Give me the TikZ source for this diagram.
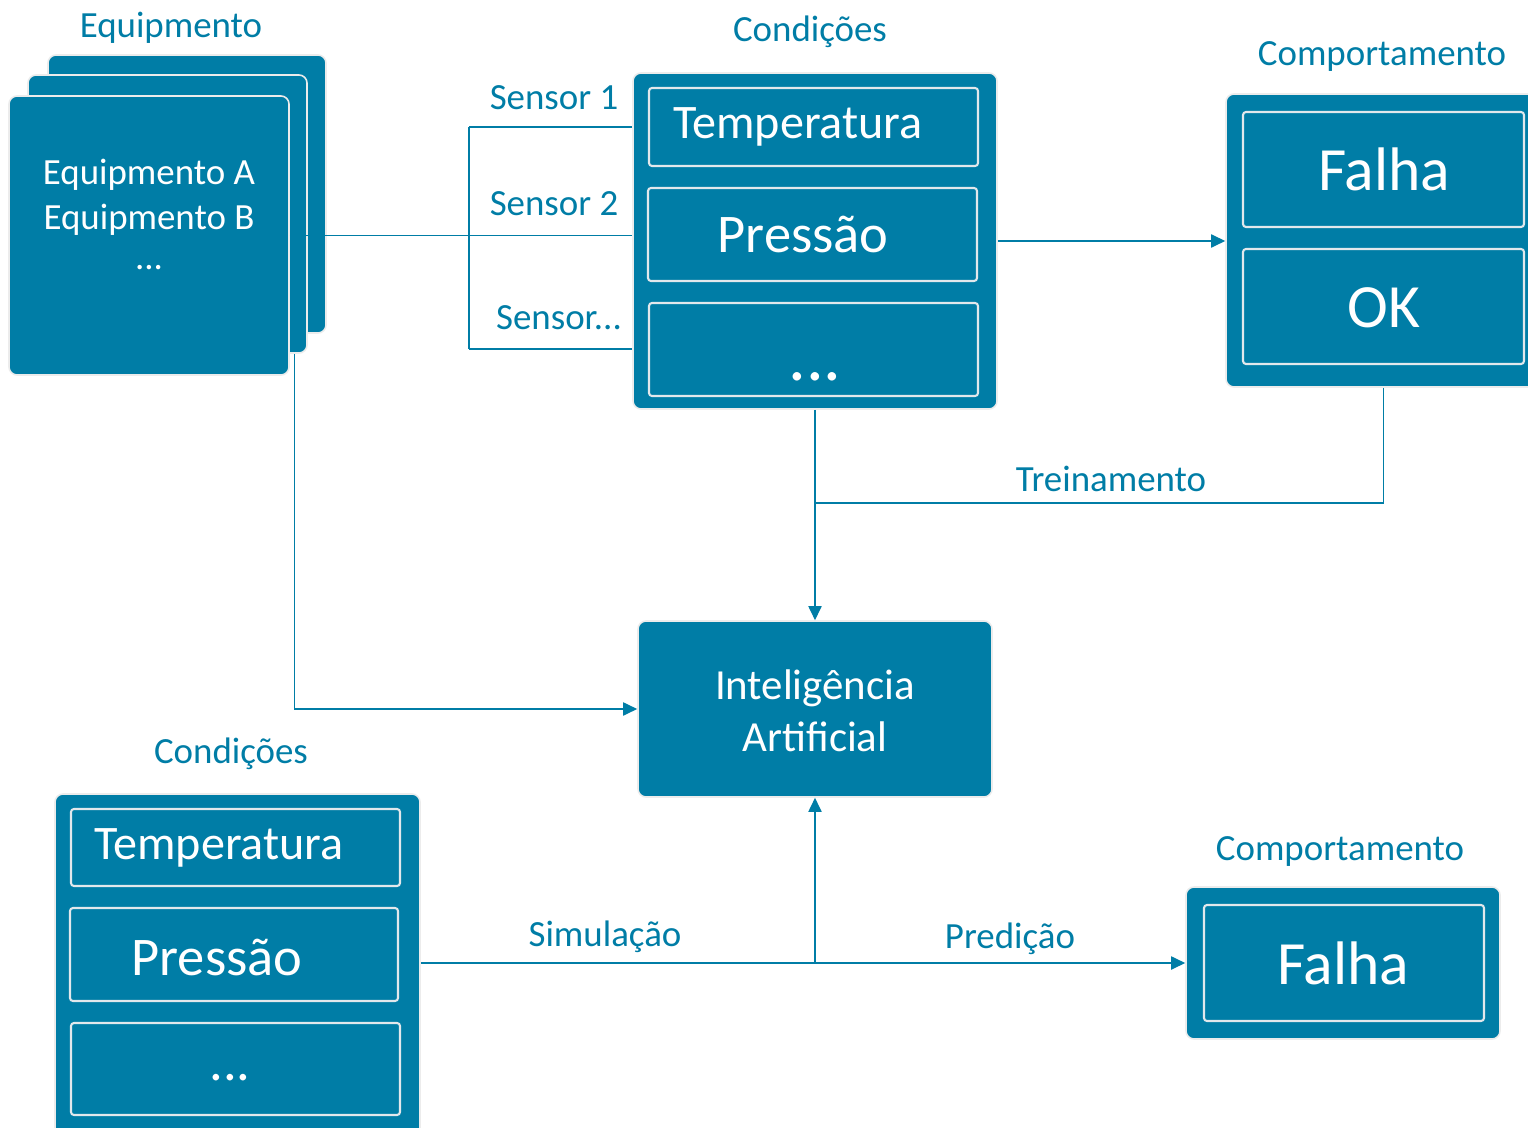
\documentclass[tikz,border=0pt]{standalone}
\usepackage{fontspec}
\setmainfont{Carlito}
\usetikzlibrary{arrows.meta, fit}
\definecolor{azul}{RGB}{0,125,166}
\definecolor{borda}{RGB}{226,232,236}

\begin{document}
\begin{tikzpicture}[x=0.02cm, y=-0.02cm,
  caixa/.style={rectangle, rounded corners=0.16cm, fill=azul, draw=gray!15, line width=0.9pt, inner sep=0pt},
  celula/.style={rectangle, rounded corners=0.06cm, draw=borda, line width=1.2pt, inner sep=0pt},
  texto/.style={text=white, inner sep=0pt},
  rotulo/.style={text=azul, inner sep=0pt, font=\fontsize{21}{25}\selectfont},
  fpeq/.style={font=\fontsize{21}{25}\selectfont},
  ftemp/.style={font=\fontsize{27.4}{30}\selectfont},
  fpres/.style={font=\fontsize{31}{34}\selectfont},
  ffalha/.style={font=\fontsize{35}{38}\selectfont},
  fio/.style={draw=azul, line width=0.8pt},
  seta/.style={fio, -{Triangle[length=8pt, width=7.5pt]}}]

\useasboundingbox (0,0) rectangle (1528,1128);
\clip (0,0) rectangle (1528,1128);

% Equipmento: three stacked cards
\node[rotulo] (lblequip) at (171,28) {Equipmento};
\node[caixa, fit={(48,55) (326,333)}] (card3) {};
\node[caixa, fit={(28,75) (307,353)}] (card2) {};
\node[caixa, fit={(9,96) (289,375)}] (card1) {};
\node[texto, fpeq] (eqa) at (149,175) {Equipmento A};
\node[texto, fpeq] (eqb) at (149,220) {Equipmento B};
\node[texto, fpeq] (eqdots) at (149,268) {...};

% Condições (top)
\node[rotulo] (lblcond) at (810,32) {Condições};
\node[caixa, fit={(633,73) (997,409)}] (cond) {};
\node[celula, fit={(649,88) (978,166)}] (ctemp) {};
\node[celula, fit={(648,188) (977,281)}] (cpres) {};
\node[celula, fit={(649,303) (978,396)}] (cmais) {};
\node[texto, ftemp] (ttemp) at (798,127) {Temperatura};
\node[texto, fpres] (tpres) at (803,235) {Pressão};
\node[texto, font=\fontsize{40}{42}\selectfont] (tmais) at (815,377) {...};

% Comportamento (top)
\node[rotulo] (lblcomp) at (1382,57) {Comportamento};
\node[caixa, fit={(1226,94) (1541,387)}] (comp) {};
\node[celula, fit={(1243,112) (1524,227)}] (cfalha) {};
\node[celula, fit={(1243,249) (1524,364)}] (cok) {};
\node[texto, ffalha] (tfalha) at (1384,169) {Falha};
\node[texto, ffalha] (tok) at (1384,308) {OK};

% Inteligência Artificial
\node[caixa, fit={(638,621) (992,797)}] (ai) {};
\node[texto, align=center, font=\fontsize{24.4}{29.5}\selectfont] (tai) at (815,711) {Inteligência\\Artificial};

% Condições (bottom)
\node[rotulo] (lblcond2) at (231,754) {Condições};
\node[caixa, fit={(55,794) (420,1160)}] (cond2) {};
\node[celula, fit={(71,809) (400,886)}] (btemp) {};
\node[celula, fit={(70,908) (398,1001)}] (bpres) {};
\node[celula, fit={(71,1023) (400,1115)}] (bmais) {};
\node[texto, ftemp] (ubtemp) at (219,848) {Temperatura};
\node[texto, fpres] (ubpres) at (217,958) {Pressão};
\node[texto, fpres] (ubmais) at (230,1078) {...};

% Comportamento (bottom)
\node[rotulo] (lblcomp2) at (1340,851) {Comportamento};
\node[caixa, fit={(1186,887) (1500,1039)}] (fail) {};
\node[celula, fit={(1204,905) (1484,1021)}] (cfail) {};
\node[texto, ffalha] (tfail) at (1343,963) {Falha};

% sensors
\coordinate (stop) at (469,127);
\coordinate (sbot) at (469,349);
\draw[fio] (card1.east) -- (card1.east -| stop) coordinate (sj);
\draw[fio] (stop) -- (sbot);
\draw[fio] (stop) -- (stop -| cond.west);
\draw[fio] (sj) -- (sj -| cond.west);
\draw[fio] (sbot) -- (sbot -| cond.west);
\node[rotulo] (lbls1) at (554,98) {Sensor 1};
\node[rotulo] (lbls2) at (554,204) {Sensor 2};
\node[rotulo] (lbls3) at (559,318) {Sensor...};

% connectors
\draw[seta] (cond.east) -- (cond.east -| comp.west);
\coordinate (tj) at (815,503);
\draw[fio] (comp.south) |- (tj);
\node[rotulo] (lbltrein) at (1111,479) {Treinamento};
\draw[seta] (cond.south) -- (ai.north);
\draw[seta] ([xshift=-0.26cm]card2.south east) |- (ai.west);

\coordinate (pj) at (815,963);
\draw[fio] (cond2.east |- pj) -- (pj);
\draw[seta] (pj) -- (ai.south);
\draw[seta] (pj) -- (fail.west);
\node[rotulo] (lblsim) at (605,937) {Simulação};
\node[rotulo] (lblpred) at (1010,939) {Predição};
\end{tikzpicture}
\end{document}
